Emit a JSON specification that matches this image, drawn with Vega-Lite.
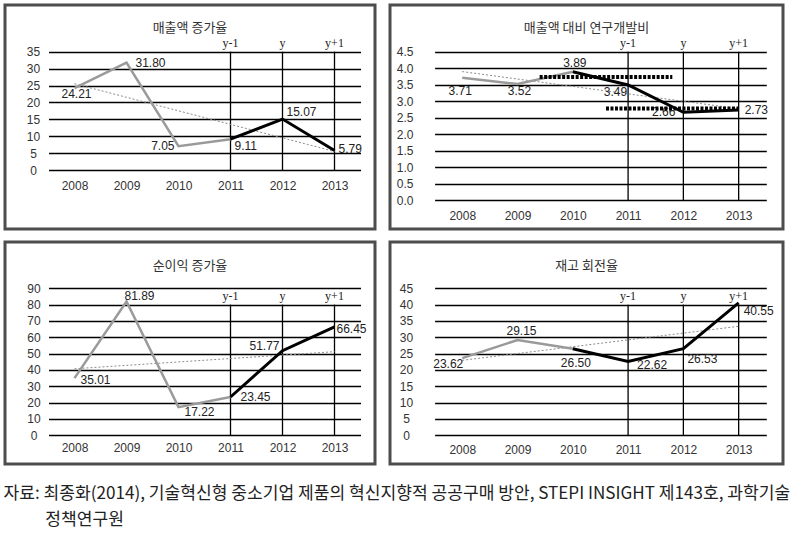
{
  "$schema": "https://vega.github.io/schema/vega-lite/v6.json",
  "padding": {"left": 3, "top": 3, "right": 0, "bottom": 0},
  "background": "white",
  "datasets": {
    "p1": [{"year": 2008, "value": 24.21}, {"year": 2009, "value": 31.80}, {"year": 2010, "value": 7.05}, {"year": 2011, "value": 9.11}, {"year": 2012, "value": 15.07}, {"year": 2013, "value": 5.79}],
    "p2": [{"year": 2008, "value": 3.71}, {"year": 2009, "value": 3.52}, {"year": 2010, "value": 3.89}, {"year": 2011, "value": 3.49}, {"year": 2012, "value": 2.66}, {"year": 2013, "value": 2.73}],
    "p3": [{"year": 2008, "value": 35.01}, {"year": 2009, "value": 81.89}, {"year": 2010, "value": 17.22}, {"year": 2011, "value": 23.45}, {"year": 2012, "value": 51.77}, {"year": 2013, "value": 66.45}],
    "p4": [{"year": 2008, "value": 23.62}, {"year": 2009, "value": 29.15}, {"year": 2010, "value": 26.50}, {"year": 2011, "value": 22.62}, {"year": 2012, "value": 26.53}, {"year": 2013, "value": 40.55}],
    "p2ref": [{"start": 2009.4, "end": 2011.8, "level": 3.73}, {"start": 2010.6, "end": 2013.0, "level": 2.78}],
    "vline": [{"year": 2011, "label": "y-1"}, {"year": 2012, "label": "y"}, {"year": 2013, "label": "y+1"}]
  },
  "title": {
    "text": ["자료: 최종화(2014), 기술혁신형 중소기업 제품의 혁신지향적 공공구매 방안, STEPI INSIGHT 제143호, 과학기술", "\u200b\u3000\u3000\u00a0\u00a0정책연구원"],
    "orient": "bottom", "anchor": "start", "font": "Noto Sans CJK KR", "fontSize": 17.1, "lineHeight": 26,
    "color": "#222", "baseline": "top", "offset": 19, "fontWeight": "normal"
  },
  "vconcat": [
    {
      "hconcat": [
        {
          "width": 370, "height": 224,
          "title": {"text": "매출액 증가율", "offset": -30},
          "encoding": {
            "x": {"field": "year", "type": "quantitative", "scale": {"domain": [2007.5, 2013.5], "range": [43.5, 355.5], "nice": false, "zero": false},
                  "axis": {"values": [2008, 2009, 2010, 2011, 2012, 2013], "format": "d", "offset": -59, "labelPadding": 15, "labelBaseline": "middle", "grid": false}}
          },
          "layer": [
            {"data": {"name": "vline"}, "mark": {"type": "rule", "color": "#000", "strokeWidth": 1.3},
             "encoding": {"y": {"datum": 0, "type": "quantitative", "scale": {"domain": [0, 35], "range": [165, 46.7], "nice": false, "zero": false}, "axis": {"values": [0, 5, 10, 15, 20, 25, 30, 35], "offset": -43.5, "labelPadding": 15.5, "labelAlign": "center", "grid": true}}, "y2": {"datum": 35}}},
            {"data": {"name": "vline"}, "mark": {"type": "text", "font": "Liberation Serif", "fontSize": 12},
             "encoding": {"y": {"datum": 37.6, "type": "quantitative", "scale": {"domain": [0, 35], "range": [165, 46.7], "nice": false, "zero": false}, "axis": {"values": [0, 5, 10, 15, 20, 25, 30, 35], "offset": -43.5, "labelPadding": 15.5, "labelAlign": "center", "grid": true}}, "text": {"field": "label"}}},
            {
              "data": {"name": "p1"},
              "encoding": {
                "y": {"field": "value", "type": "quantitative", "scale": {"domain": [0, 35], "range": [165, 46.7], "nice": false, "zero": false},
                      "axis": {"values": [0, 5, 10, 15, 20, 25, 30, 35], "offset": -43.5, "labelPadding": 15.5, "labelAlign": "center", "grid": true}}
              },
              "layer": [
                {"transform": [{"regression": "value", "on": "year"}], "mark": {"type": "line", "color": "#8c8c8c", "strokeWidth": 1, "strokeDash": [2, 2]}},
                {"transform": [{"filter": "datum.year <= 2011"}], "mark": {"type": "line", "color": "#9a9a9a", "strokeWidth": 2.5}},
                {"transform": [{"filter": "datum.year >= 2011"}], "mark": {"type": "line", "color": "#000", "strokeWidth": 3}},
                {"transform": [{"filter": "datum.year == 2008"}], "mark": {"type": "text", "align": "center", "dx": 2, "dy": 6}, "encoding": {"text": {"field": "value", "type": "quantitative", "format": ".2f"}}},
                {"transform": [{"filter": "datum.year == 2009"}], "mark": {"type": "text", "align": "left", "dx": 9, "dy": 0}, "encoding": {"text": {"field": "value", "type": "quantitative", "format": ".2f"}}},
                {"transform": [{"filter": "datum.year == 2010"}], "mark": {"type": "text", "align": "right", "dx": -4, "dy": 0}, "encoding": {"text": {"field": "value", "type": "quantitative", "format": ".2f"}}},
                {"transform": [{"filter": "datum.year == 2011"}], "mark": {"type": "text", "align": "left", "dx": 4, "dy": 7}, "encoding": {"text": {"field": "value", "type": "quantitative", "format": ".2f"}}},
                {"transform": [{"filter": "datum.year == 2012"}], "mark": {"type": "text", "align": "left", "dx": 4, "dy": -7}, "encoding": {"text": {"field": "value", "type": "quantitative", "format": ".2f"}}},
                {"transform": [{"filter": "datum.year == 2013"}], "mark": {"type": "text", "align": "left", "dx": 4, "dy": -1}, "encoding": {"text": {"field": "value", "type": "quantitative", "format": ".2f"}}}
              ]
            }
          ]
        },
        {
          "width": 393, "height": 224,
          "title": {"text": "매출액 대비 연구개발비", "offset": -30},
          "encoding": {
            "x": {"field": "year", "type": "quantitative", "scale": {"domain": [2007.5, 2013.5], "range": [44.6, 376.3], "nice": false, "zero": false},
                  "axis": {"values": [2008, 2009, 2010, 2011, 2012, 2013], "format": "d", "offset": -29, "labelPadding": 15, "labelBaseline": "middle", "grid": false}}
          },
          "layer": [
            {"data": {"name": "vline"}, "mark": {"type": "rule", "color": "#000", "strokeWidth": 1.3},
             "encoding": {"y": {"datum": 0, "type": "quantitative", "scale": {"domain": [0, 4.5], "range": [195, 46.7], "nice": false, "zero": false}, "axis": {"values": [0, 0.5, 1, 1.5, 2, 2.5, 3, 3.5, 4, 4.5], "format": ".1f", "offset": -44.6, "labelPadding": 30, "labelAlign": "center", "grid": true}}, "y2": {"datum": 4.5}}},
            {"data": {"name": "vline"}, "mark": {"type": "text", "font": "Liberation Serif", "fontSize": 12},
             "encoding": {"y": {"datum": 4.75, "type": "quantitative", "scale": {"domain": [0, 4.5], "range": [195, 46.7], "nice": false, "zero": false}, "axis": {"values": [0, 0.5, 1, 1.5, 2, 2.5, 3, 3.5, 4, 4.5], "format": ".1f", "offset": -44.6, "labelPadding": 30, "labelAlign": "center", "grid": true}}, "text": {"field": "label"}}},
            {
              "data": {"name": "p2"},
              "encoding": {
                "y": {"field": "value", "type": "quantitative", "scale": {"domain": [0, 4.5], "range": [195, 46.7], "nice": false, "zero": false},
                      "axis": {"values": [0, 0.5, 1, 1.5, 2, 2.5, 3, 3.5, 4, 4.5], "format": ".1f", "offset": -44.6, "labelPadding": 30, "labelAlign": "center", "grid": true}}
              },
              "layer": [
                {"transform": [{"regression": "value", "on": "year"}], "mark": {"type": "line", "color": "#8c8c8c", "strokeWidth": 1, "strokeDash": [2, 2]}},
                {"transform": [{"filter": "datum.year <= 2010"}], "mark": {"type": "line", "color": "#9a9a9a", "strokeWidth": 2.5}},
                {"transform": [{"filter": "datum.year >= 2010"}], "mark": {"type": "line", "color": "#000", "strokeWidth": 3}},
                {"transform": [{"filter": "datum.year == 2008"}], "mark": {"type": "text", "align": "center", "dx": -2, "dy": 13}, "encoding": {"text": {"field": "value", "type": "quantitative", "format": ".2f"}}},
                {"transform": [{"filter": "datum.year == 2009"}], "mark": {"type": "text", "align": "center", "dx": 2, "dy": 7}, "encoding": {"text": {"field": "value", "type": "quantitative", "format": ".2f"}}},
                {"transform": [{"filter": "datum.year == 2010"}], "mark": {"type": "text", "align": "center", "dx": 2, "dy": -9}, "encoding": {"text": {"field": "value", "type": "quantitative", "format": ".2f"}}},
                {"transform": [{"filter": "datum.year == 2011"}], "mark": {"type": "text", "align": "right", "dx": -1, "dy": 7}, "encoding": {"text": {"field": "value", "type": "quantitative", "format": ".2f"}}},
                {"transform": [{"filter": "datum.year == 2012"}], "mark": {"type": "text", "align": "right", "dx": -8, "dy": 0}, "encoding": {"text": {"field": "value", "type": "quantitative", "format": ".2f"}}},
                {"transform": [{"filter": "datum.year == 2013"}], "mark": {"type": "text", "align": "left", "dx": 6, "dy": 0}, "encoding": {"text": {"field": "value", "type": "quantitative", "format": ".2f"}}}
              ]
            },
            {"data": {"name": "p2ref"}, "mark": {"type": "rule", "color": "#000", "strokeWidth": 4, "strokeDash": [3, 1.5]},
             "encoding": {"x": {"field": "start", "type": "quantitative", "scale": {"domain": [2007.5, 2013.5], "range": [44.6, 376.3], "nice": false, "zero": false},
                  "axis": {"values": [2008, 2009, 2010, 2011, 2012, 2013], "format": "d", "offset": -29, "labelPadding": 15, "labelBaseline": "middle", "grid": false}},
              "x2": {"field": "end"},
              "y": {"field": "level", "type": "quantitative", "scale": {"domain": [0, 4.5], "range": [195, 46.7], "nice": false, "zero": false}, "axis": {"values": [0, 0.5, 1, 1.5, 2, 2.5, 3, 3.5, 4, 4.5], "format": ".1f", "offset": -44.6, "labelPadding": 30, "labelAlign": "center", "grid": true}}}}
          ]
        }
      ],
      "spacing": 11
    },
    {
      "hconcat": [
        {
          "width": 370, "height": 222,
          "title": {"text": "순이익 증가율", "offset": -31},
          "encoding": {
            "x": {"field": "year", "type": "quantitative", "scale": {"domain": [2007.5, 2013.5], "range": [43.5, 355.5], "nice": false, "zero": false},
                  "axis": {"values": [2008, 2009, 2010, 2011, 2012, 2013], "format": "d", "offset": -28.7, "labelPadding": 12.4, "labelBaseline": "middle", "grid": false}}
          },
          "layer": [
            {"data": {"name": "vline"}, "mark": {"type": "rule", "color": "#000", "strokeWidth": 1.3},
             "encoding": {"y": {"datum": 0, "type": "quantitative", "scale": {"domain": [0, 90], "range": [193.3, 46.3], "nice": false, "zero": false}, "axis": {"values": [0, 10, 20, 30, 40, 50, 60, 70, 80, 90], "offset": -43.5, "labelPadding": 15, "labelAlign": "center", "grid": true}}, "y2": {"datum": 80}}},
            {"data": {"name": "vline"}, "mark": {"type": "text", "font": "Liberation Serif", "fontSize": 12},
             "encoding": {"y": {"datum": 85.3, "type": "quantitative", "scale": {"domain": [0, 90], "range": [193.3, 46.3], "nice": false, "zero": false}, "axis": {"values": [0, 10, 20, 30, 40, 50, 60, 70, 80, 90], "offset": -43.5, "labelPadding": 15, "labelAlign": "center", "grid": true}}, "text": {"field": "label"}}},
            {
              "data": {"name": "p3"},
              "encoding": {
                "y": {"field": "value", "type": "quantitative", "scale": {"domain": [0, 90], "range": [193.3, 46.3], "nice": false, "zero": false},
                      "axis": {"values": [0, 10, 20, 30, 40, 50, 60, 70, 80, 90], "offset": -43.5, "labelPadding": 15, "labelAlign": "center", "grid": true}}
              },
              "layer": [
                {"transform": [{"regression": "value", "on": "year"}], "mark": {"type": "line", "color": "#8c8c8c", "strokeWidth": 1, "strokeDash": [2, 2]}},
                {"transform": [{"filter": "datum.year <= 2011"}], "mark": {"type": "line", "color": "#9a9a9a", "strokeWidth": 2.5}},
                {"transform": [{"filter": "datum.year >= 2011"}], "mark": {"type": "line", "color": "#000", "strokeWidth": 3}},
                {"transform": [{"filter": "datum.year == 2008"}], "mark": {"type": "text", "align": "left", "dx": 6, "dy": 2}, "encoding": {"text": {"field": "value", "type": "quantitative", "format": ".2f"}}},
                {"transform": [{"filter": "datum.year == 2009"}], "mark": {"type": "text", "align": "left", "dx": -2, "dy": -6}, "encoding": {"text": {"field": "value", "type": "quantitative", "format": ".2f"}}},
                {"transform": [{"filter": "datum.year == 2010"}], "mark": {"type": "text", "align": "left", "dx": 6, "dy": 5}, "encoding": {"text": {"field": "value", "type": "quantitative", "format": ".2f"}}},
                {"transform": [{"filter": "datum.year == 2011"}], "mark": {"type": "text", "align": "left", "dx": 10, "dy": 0}, "encoding": {"text": {"field": "value", "type": "quantitative", "format": ".2f"}}},
                {"transform": [{"filter": "datum.year == 2012"}], "mark": {"type": "text", "align": "right", "dx": -3, "dy": -5}, "encoding": {"text": {"field": "value", "type": "quantitative", "format": ".2f"}}},
                {"transform": [{"filter": "datum.year == 2013"}], "mark": {"type": "text", "align": "left", "dx": 2, "dy": 2}, "encoding": {"text": {"field": "value", "type": "quantitative", "format": ".2f"}}}
              ]
            }
          ]
        },
        {
          "width": 393, "height": 222,
          "title": {"text": "재고 회전율", "offset": -31},
          "encoding": {
            "x": {"field": "year", "type": "quantitative", "scale": {"domain": [2007.5, 2013.5], "range": [44.6, 376.3], "nice": false, "zero": false},
                  "axis": {"values": [2008, 2009, 2010, 2011, 2012, 2013], "format": "d", "offset": -28.7, "labelPadding": 13.7, "labelBaseline": "middle", "grid": false}}
          },
          "layer": [
            {"data": {"name": "vline"}, "mark": {"type": "rule", "color": "#000", "strokeWidth": 1.3},
             "encoding": {"y": {"datum": 0, "type": "quantitative", "scale": {"domain": [0, 45], "range": [193.3, 46.3], "nice": false, "zero": false}, "axis": {"values": [0, 5, 10, 15, 20, 25, 30, 35, 40, 45], "offset": -44.6, "labelPadding": 28.6, "labelAlign": "center", "grid": true}}, "y2": {"datum": 40}}},
            {"data": {"name": "vline"}, "mark": {"type": "text", "font": "Liberation Serif", "fontSize": 12},
             "encoding": {"y": {"datum": 42.6, "type": "quantitative", "scale": {"domain": [0, 45], "range": [193.3, 46.3], "nice": false, "zero": false}, "axis": {"values": [0, 5, 10, 15, 20, 25, 30, 35, 40, 45], "offset": -44.6, "labelPadding": 28.6, "labelAlign": "center", "grid": true}}, "text": {"field": "label"}}},
            {
              "data": {"name": "p4"},
              "encoding": {
                "y": {"field": "value", "type": "quantitative", "scale": {"domain": [0, 45], "range": [193.3, 46.3], "nice": false, "zero": false},
                      "axis": {"values": [0, 5, 10, 15, 20, 25, 30, 35, 40, 45], "offset": -44.6, "labelPadding": 28.6, "labelAlign": "center", "grid": true}}
              },
              "layer": [
                {"transform": [{"regression": "value", "on": "year"}], "mark": {"type": "line", "color": "#8c8c8c", "strokeWidth": 1, "strokeDash": [2, 2]}},
                {"transform": [{"filter": "datum.year <= 2010"}], "mark": {"type": "line", "color": "#9a9a9a", "strokeWidth": 2.5}},
                {"transform": [{"filter": "datum.year >= 2010"}], "mark": {"type": "line", "color": "#000", "strokeWidth": 3}},
                {"transform": [{"filter": "datum.year == 2008"}], "mark": {"type": "text", "align": "right", "dx": 1, "dy": 6}, "encoding": {"text": {"field": "value", "type": "quantitative", "format": ".2f"}}},
                {"transform": [{"filter": "datum.year == 2009"}], "mark": {"type": "text", "align": "center", "dx": 4, "dy": -9}, "encoding": {"text": {"field": "value", "type": "quantitative", "format": ".2f"}}},
                {"transform": [{"filter": "datum.year == 2010"}], "mark": {"type": "text", "align": "center", "dx": 3, "dy": 14}, "encoding": {"text": {"field": "value", "type": "quantitative", "format": ".2f"}}},
                {"transform": [{"filter": "datum.year == 2011"}], "mark": {"type": "text", "align": "left", "dx": 9, "dy": 4}, "encoding": {"text": {"field": "value", "type": "quantitative", "format": ".2f"}}},
                {"transform": [{"filter": "datum.year == 2012"}], "mark": {"type": "text", "align": "left", "dx": 4, "dy": 10}, "encoding": {"text": {"field": "value", "type": "quantitative", "format": ".2f"}}},
                {"transform": [{"filter": "datum.year == 2013"}], "mark": {"type": "text", "align": "left", "dx": 5, "dy": 8}, "encoding": {"text": {"field": "value", "type": "quantitative", "format": ".2f"}}}
              ]
            }
          ]
        }
      ],
      "spacing": 11
    }
  ],
  "spacing": 9,
  "config": {
    "view": {"stroke": "#4d4d4d", "strokeWidth": 3, "fill": "white"},
    "axis": {"domain": false, "ticks": false, "tickSize": 0, "title": null, "labelFont": "Liberation Sans", "labelFontSize": 12, "labelColor": "#333", "gridColor": "#000", "gridWidth": 1.3, "gridOpacity": 1},
    "text": {"font": "Liberation Sans", "fontSize": 12, "baseline": "middle", "color": "#222"},
    "title": {"font": "Noto Sans CJK KR", "fontSize": 13, "fontWeight": "normal", "color": "#333", "anchor": "middle", "baseline": "middle"}
  }
}
